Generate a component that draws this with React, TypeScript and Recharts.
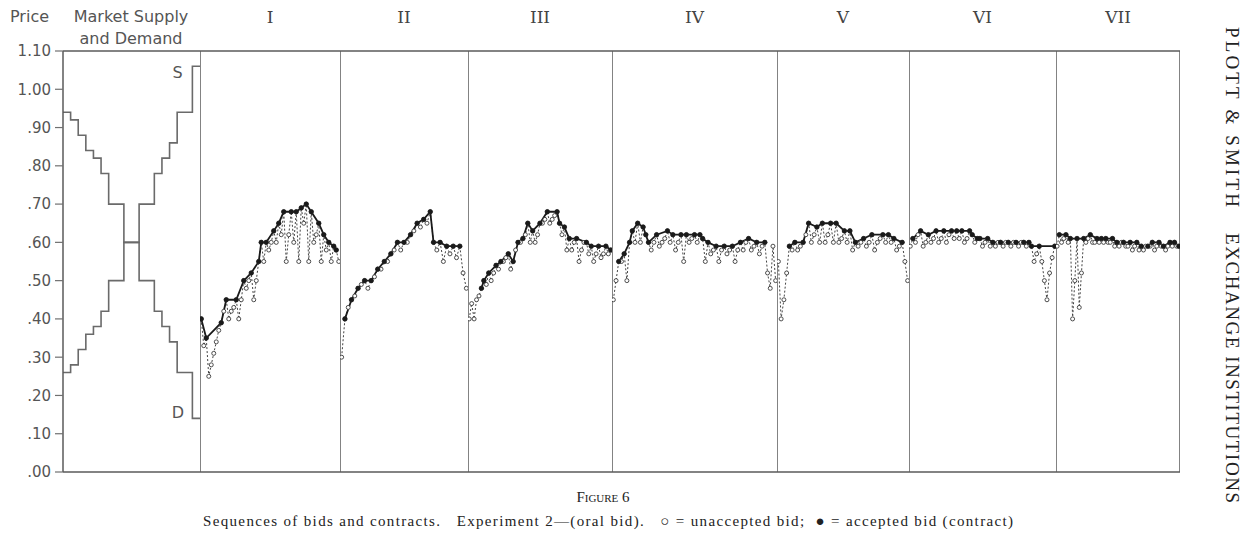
import { LineChart, Line, XAxis, YAxis, ReferenceDot, ReferenceLine } from 'recharts';

// price axis
const priceTicks = [0, 0.1, 0.2, 0.3, 0.4, 0.5, 0.6, 0.7, 0.8, 0.9, 1.0, 1.1];
const priceTickLabels = ['.00', '.10', '.20', '.30', '.40', '.50', '.60', '.70', '.80', '.90', '1.00', '1.10'];

// market supply and demand: price (cents) of each unit, in unit order
const demandSteps = [94, 92, 88, 84, 82, 78, 70, 70, 60, 60, 50, 50, 42, 38, 34, 26, 26, 14];
const supplySteps = [26, 28, 32, 36, 38, 42, 50, 50, 60, 60, 70, 70, 78, 82, 86, 94, 94, 106];

const periodNames = ['I', 'II', 'III', 'IV', 'V', 'VI', 'VII'];

// bids in cents, one run per contract: the last bid of each run is the accepted one
const runsI = [
  [40], [33, 35], [25, 28, 31, 34, 37, 39], [42, 45], [40, 42, 43, 45], [40, 45, 50], [48, 50, 52],
  [45, 50, 55], [60], [55, 60], [58, 60, 63], [60, 65], [62, 68], [55, 62, 68], [60, 68], [55, 69],
  [65, 70], [55, 68], [60, 62, 65], [55, 62], [58, 60], [55, 59], [58],
];
const runsII = [
  [30, 40], [43, 45], [46, 48], [49, 50], [48, 50], [51, 53], [53, 55], [55, 57], [58, 60], [58, 60],
  [60, 62], [63, 65], [64, 66], [65, 68], [60], [58, 60], [55, 59], [57, 59], [56, 59],
];
const runsIII = [
  [40, 44, 40, 45, 46, 48], [50], [49, 52], [50, 52, 54], [53, 55], [55, 56, 57], [53, 55], [58, 60],
  [60, 61], [62, 65], [60, 63], [60, 62, 65], [65, 66, 68], [65, 66, 67, 68], [65], [62, 64], [58, 61],
  [58, 60, 61], [55, 58, 60, 60], [57, 59], [55, 57, 59], [56, 57, 59], [57, 58],
];
const runsIV = [
  [45, 50, 55], [55, 57], [50, 60], [63], [60, 65], [60, 64], [62], [60], [58, 60, 62], [59, 60, 61, 63],
  [60, 62], [58, 60, 62], [55, 62], [60, 61, 62], [60, 62], [61], [55, 60], [57, 58, 59], [55, 58, 59],
  [57, 58, 59], [55, 58, 60], [58, 60, 61], [58, 59, 60], [57, 59, 60],
];
const runsV = [
  [55, 40, 45, 52, 59], [58, 60], [58, 59, 60], [62, 65], [60, 62, 64], [60, 65], [60, 62, 65], [60, 65],
  [60, 61, 63], [60, 63], [58, 60], [59, 60, 61], [59, 60, 62], [58, 60, 61, 62], [60, 62], [60, 61],
  [58, 59, 60],
];
const runsVI = [
  [59, 61], [60, 62, 63], [59, 60, 62], [60, 61, 63], [60, 61, 63], [60, 62, 63], [61, 63], [61, 63],
  [60, 61, 63], [62], [60, 61], [61], [59, 60, 61], [59, 60], [59, 60, 60], [59, 60, 60], [59, 60, 60],
  [59, 60, 60], [59, 60], [59], [55, 57, 59], [55, 50, 45, 52, 56, 59],
];
const runsVII = [
  [59, 62], [60, 61, 62], [60, 61], [40, 50, 61], [43, 52, 61], [60, 61, 62], [60, 60, 61], [60, 61],
  [60, 61], [60, 60, 61], [59, 60], [59, 60, 60], [59, 59, 60], [58, 59, 60], [58, 59], [58, 59, 59],
  [59, 60], [58, 59, 60], [59, 59], [58, 59, 60], [59, 60], [59, 59],
];
// bids still unaccepted when the period closed
const tailBids = [[55], [52, 48], [], [52, 48, 59, 50], [55, 50], [], []];

const periodRuns = [runsI, runsII, runsIII, runsIV, runsV, runsVI, runsVII];

// layout
const W = 1256;
const H = 537;
const TOP = 51;
const BOTTOM = 472;
const edges = [63, 200, 340, 468, 612, 777, 909, 1056, 1180];
const FRAME_COLOR = '#5a5a5a';
const FRAME_WIDTH = 1.5;
const LETTERING = 'DejaVu Sans, sans-serif';

type Row = { t: number; bid: number; contract: number | null };

function buildRows(runs: number[][], tail: number[]): Row[] {
  const rows: Row[] = [];
  runs.forEach((run) =>
    run.forEach((c, j) =>
      rows.push({ t: rows.length, bid: c / 100, contract: j === run.length - 1 ? c / 100 : null })
    )
  );
  tail.forEach((c) => rows.push({ t: rows.length, bid: c / 100, contract: null }));
  return rows;
}

function SupplyDemandPanel() {
  const n = demandSteps.length;
  const rows = Array.from({ length: n + 1 }, (_, q) => ({
    q,
    demand: demandSteps[Math.min(q, n - 1)] / 100,
    supply: supplySteps[Math.min(q, n - 1)] / 100,
  }));
  return (
    <div style={{ position: 'absolute', left: 0, top: 0 }}>
      <LineChart width={edges[1]} height={H} data={rows} margin={{ top: TOP, right: 0, bottom: H - BOTTOM, left: 0 }}>
        <XAxis dataKey="q" type="number" domain={[0, n]} hide />
        <YAxis
          type="number"
          width={edges[0]}
          domain={[0, 1.1]}
          ticks={priceTicks}
          interval={0}
          tickFormatter={(v: number) => priceTickLabels[priceTicks.indexOf(v)]}
          tick={{ fill: '#555', fontSize: 15, fontFamily: LETTERING }}
          tickSize={8}
          tickMargin={4}
          tickLine={{ stroke: '#707070', strokeWidth: 1.2 }}
          axisLine={{ stroke: FRAME_COLOR, strokeWidth: FRAME_WIDTH }}
        />
        <ReferenceLine y={0} stroke={FRAME_COLOR} strokeWidth={FRAME_WIDTH} />
        <ReferenceLine y={1.1} stroke={FRAME_COLOR} strokeWidth={FRAME_WIDTH} />
        <Line type="stepAfter" dataKey="demand" stroke="#6a6a6a" strokeWidth={1.6} dot={false} isAnimationActive={false} />
        <Line type="stepAfter" dataKey="supply" stroke="#6a6a6a" strokeWidth={1.6} dot={false} isAnimationActive={false} />
        <ReferenceDot x={15.05} y={1.045} r={0} fill="none" stroke="none"
          label={{ value: 'S', position: 'center', fill: '#555', fontSize: 16, fontFamily: LETTERING }} />
        <ReferenceDot x={15.1} y={0.155} r={0} fill="none" stroke="none"
          label={{ value: 'D', position: 'center', fill: '#555', fontSize: 16, fontFamily: LETTERING }} />
      </LineChart>
    </div>
  );
}

function PeriodPanel({ index }: { index: number }) {
  const rows = buildRows(periodRuns[index], tailBids[index]);
  const left = edges[index + 1];
  const right = edges[index + 2];
  const n = rows.length;
  const last = index === periodRuns.length - 1;
  return (
    <div style={{ position: 'absolute', left, top: 0 }}>
      <LineChart width={right - left} height={H} data={rows} margin={{ top: TOP, right: 0, bottom: H - BOTTOM, left: 0 }}>
        <XAxis dataKey="t" type="number" domain={[-0.5, n - 0.5]} hide />
        <YAxis type="number" domain={[0, 1.1]} hide />
        <ReferenceLine y={0} stroke={FRAME_COLOR} strokeWidth={FRAME_WIDTH} />
        <ReferenceLine y={1.1} stroke={FRAME_COLOR} strokeWidth={FRAME_WIDTH} />
        <ReferenceLine x={-0.5} stroke={FRAME_COLOR} strokeWidth={FRAME_WIDTH} />
        {last && <ReferenceLine x={n - 0.5} stroke={FRAME_COLOR} strokeWidth={FRAME_WIDTH} />}
        <Line
          type="linear"
          dataKey="bid"
          stroke="#444"
          strokeWidth={1}
          strokeDasharray="2 2"
          dot={{ r: 2, fill: '#fff', stroke: '#3a3a3a', strokeWidth: 0.9, strokeDasharray: 'none' }}
          activeDot={false}
          isAnimationActive={false}
        />
        <Line
          type="linear"
          dataKey="contract"
          connectNulls
          stroke="#1a1a1a"
          strokeWidth={1.8}
          dot={{ r: 2.3, fill: '#1a1a1a', stroke: '#1a1a1a', strokeWidth: 0.5 }}
          activeDot={false}
          isAnimationActive={false}
        />
      </LineChart>
    </div>
  );
}

export default function App() {
  return (
    <div style={{ position: 'absolute', left: 0, top: 0, width: W, height: H, background: '#fff' }}>
      <SupplyDemandPanel />
      {periodNames.map((name, i) => (
        <PeriodPanel key={name} index={i} />
      ))}
      <svg width={W} height={H} style={{ position: 'absolute', left: 0, top: 0, pointerEvents: 'none' }}>
        <g fill="#555" fontFamily={LETTERING} fontSize={16}>
          <text x={10} y={22}>Price</text>
          <text x={131} y={22} textAnchor="middle">Market Supply</text>
          <text x={131} y={44} textAnchor="middle">and Demand</text>
        </g>
        <g fill="#444" fontFamily="DejaVu Serif, serif" fontSize={17} textAnchor="middle">
          {periodNames.map((name, i) => (
            <text key={name} x={(edges[i + 1] + edges[i + 2]) / 2} y={23}>{name}</text>
          ))}
        </g>
        <g fill="#222" fontFamily="Liberation Serif, serif" fontSize={15}>
          <text x={603} y={502} textAnchor="middle" style={{ fontVariant: 'small-caps' }}>Figure 6</text>
          <text x={203} y={526} textLength={810} lengthAdjust="spacing" style={{ whiteSpace: 'pre' }}>
            {'Sequences of bids and contracts.   Experiment 2\u2014(oral bid).   \u25CB = unaccepted bid;  \u25CF = accepted bid (contract)'}
          </text>
        </g>
        <g fill="#222" fontFamily="Liberation Serif, serif" fontSize={19}>
          <text transform="translate(1226,27) rotate(90)" textLength={180} lengthAdjust="spacing">{'PLOTT & SMITH'}</text>
          <text transform="translate(1226,233) rotate(90)" textLength={270} lengthAdjust="spacing">{'EXCHANGE INSTITUTIONS'}</text>
        </g>
      </svg>
    </div>
  );
}
